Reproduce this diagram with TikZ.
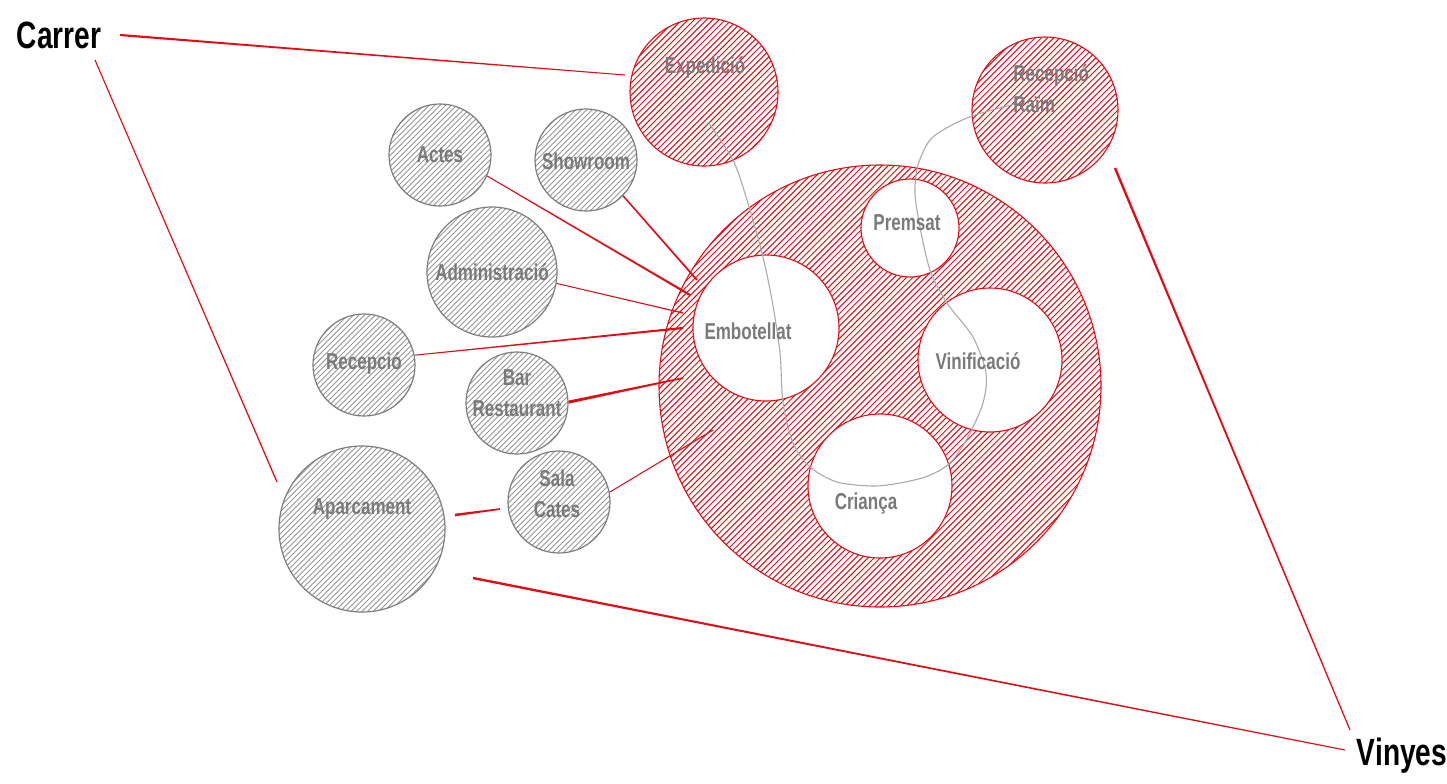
\documentclass[tikz,border=0pt]{standalone}
\usepackage{fontspec}
\newfontfamily\labfont{Liberation Sans}[FakeStretch=0.74]
\usetikzlibrary{calc}
\definecolor{hred}{RGB}{226,12,20}
\definecolor{cgray}{RGB}{125,125,125}
\definecolor{hgray}{RGB}{150,150,150}
\definecolor{tgray}{RGB}{122,122,122}
\definecolor{curvegray}{RGB}{170,170,170}
\newcommand\hatchlines[3]{% step (px), colour, line width
  \pgfmathsetmacro\hsecond{-330+#1}%
  \foreach \c in {-330,\hsecond,...,330}
    \draw[#2, line width=#3] ($(path picture bounding box.center)+(\c-235,-235)$) -- ++(470,470);}
\begin{document}
\begin{tikzpicture}[x=0.5pt,y=0.5pt,
  redc/.style={circle, draw=hred, line width=0.55pt, inner sep=0pt,
    path picture={\hatchlines{6.2}{hred}{0.5pt}}},
  grayc/.style={circle, draw=cgray, line width=0.6pt, inner sep=0pt,
    path picture={\hatchlines{5.5}{hgray}{0.45pt}}},
  whitec/.style={circle, draw=hred, line width=0.55pt, fill=white, inner sep=0pt},
  lbl/.style={font=\labfont\bfseries\fontsize{11.5}{15.5}\selectfont, text=tgray, inner sep=0pt, align=center},
  bigl/.style={font=\labfont\bfseries\fontsize{19}{22}\selectfont, text=black, inner sep=0pt},
  curve/.style={draw=curvegray, line width=0.55pt},
  taper/.style 2 args={fill=hred, draw=none, to path={
    ($(\tikztostart)!#1!90:(\tikztotarget)$) -- ($(\tikztostart)!#1!-90:(\tikztotarget)$)
    -- ($(\tikztotarget)!#2!90:(\tikztostart)$) -- ($(\tikztotarget)!#2!-90:(\tikztostart)$) -- cycle}}
]
\path[use as bounding box] (0,0) rectangle (1447,-783);

% red circles
\node[redc, minimum size=221pt] (bod) at (880,-386) {};
\node[whitec, minimum size=73pt] (emb) at (766,-328) {};
\node[whitec, minimum size=49pt] (prem) at (910,-228) {};
\node[whitec, minimum size=72pt] (vini) at (990,-360) {};
\node[whitec, minimum size=72pt] (cria) at (880,-486) {};
\node[redc, minimum size=74pt] (expe) at (704,-92) {};
\node[redc, minimum size=73pt] (raim) at (1045,-110) {};

% gray circles
\node[grayc, minimum size=51pt] (actes) at (440,-155) {};
\node[grayc, minimum size=51pt] (show) at (586,-160) {};
\node[grayc, minimum size=65pt] (admin) at (492,-272) {};
\node[grayc, minimum size=51pt] (recep) at (364,-365) {};
\node[grayc, minimum size=51pt] (bar) at (517,-403) {};
\node[grayc, minimum size=51pt] (sala) at (559,-502) {};
\node[grayc, minimum size=83pt] (apar) at (362,-529) {};

% gray flow curve
\draw[curve] plot[smooth] coordinates {(708,-122) (733,-160) (747,-200) (762,-253) (772,-300) (780,-353) (783,-403) (793,-443) (810,-467) (837,-482) (873,-486) (900,-483) (928,-476) (950,-463) (968,-437) (983,-403) (986,-373) (973,-337) (947,-303) (930,-270) (920,-227) (915,-193) (918,-165) (930,-140) (950,-126) (975,-115) (1015,-104)};

% labels
\node[bigl] (carrer) at (59,-35) {Carrer};
\node[bigl] (vinyes) at (1402,-756) {Vinyes};
\node[lbl] (tExpe) at (705,-67) {Expedició};
\node[lbl, align=left, anchor=west] (tRaim) at (1013,-89) {Recepció\\Raïm};
\node[lbl] (tActes) at (440,-155) {Actes};
\node[lbl] (tShow) at (586,-161) {Showroom};
\node[lbl] (tAdmin) at (492,-272) {Administració};
\node[lbl] (tRecep) at (364,-363) {Recepció};
\node[lbl] (tBar) at (517,-393) {Bar\\Restaurant};
\node[lbl] (tSala) at (557,-494) {Sala\\Cates};
\node[lbl] (tApar) at (362,-509) {Aparcament};
\node[lbl] (tEmb) at (748,-331) {Embotellat};
\node[lbl] (tPrem) at (907,-223) {Premsat};
\node[lbl] (tVini) at (978,-361) {Vinificació};
\node[lbl] (tCria) at (866,-504) {Criança};

% connector end points
\coordinate (cA) at (120,-35);
\coordinate (cB) at (625,-75);
\coordinate (cC) at (95,-60);
\coordinate (cD) at (277,-482);
\coordinate (vA) at (473,-578);
\coordinate (vB) at (1345,-750);
\coordinate (vC) at (1115,-168);
\coordinate (vD) at (1350,-730);
\coordinate (e1) at (690,-295);
\coordinate (e2) at (697,-280);
\coordinate (e3) at (683,-313);
\coordinate (e4) at (683,-328);
\coordinate (e5) at (683,-378);
\coordinate (b1) at (713,-430);
\coordinate (pA) at (455,-515);
\coordinate (pB) at (500,-509);

% connectors
\path[taper={0.55pt}{0.25pt}] (cA) to (cB);
\path[taper={0.28pt}{0.32pt}] (cC) to (cD);
\path[taper={0.6pt}{0.28pt}] (vA) to (vB);
\path[taper={0.6pt}{0.3pt}] (vC) to (vD);
\path[taper={0.25pt}{0.55pt}] (actes.-24) to (e1);
\path[taper={0.38pt}{0.45pt}] (show.-44) to (e2);
\path[taper={0.25pt}{0.3pt}] (admin.-10) to (e3);
\path[taper={0.25pt}{0.55pt}] (recep.11) to (e4);
\path[taper={0.75pt}{0.4pt}] (bar.1) to (e5);
\path[taper={0.25pt}{0.3pt}] (sala.11) to (b1);
\path[taper={0.65pt}{0.4pt}] (pA) to (pB);
\end{tikzpicture}
\end{document}
